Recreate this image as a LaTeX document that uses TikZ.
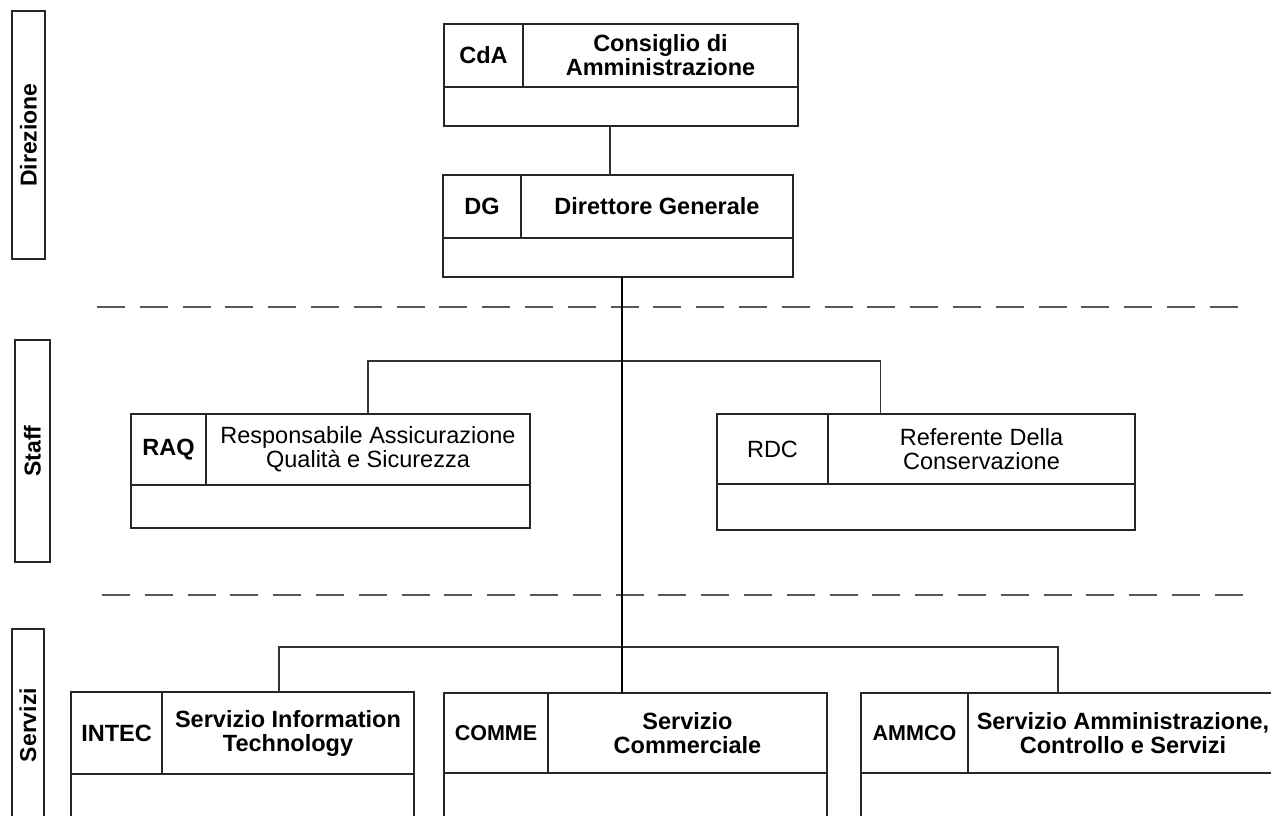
\documentclass[tikz,border=0pt]{standalone}
\usepackage{fontspec}
\setmainfont{Liberation Sans}
\tikzset{
  cell/.style={draw=black!85, line width=1.4pt, inner sep=0pt, outer sep=0pt,
    align=center, font=\fontsize{23.5}{24}\selectfont},
  conn/.style={draw=black!80, line width=1.4pt},
  trunkline/.style={draw=black, line width=2.2pt},
  sepline/.style={draw=black!65, line width=2.4pt, dash pattern=on 28pt off 14.8pt},
  lane/.style={draw=black!85, line width=1.6pt, inner sep=0pt, outer sep=0pt,
    rotate=90, font=\bfseries\fontsize{23}{24}\selectfont}
}
% #1 name, #2 left, #3 top, #4 code width, #5 title width, #6 header height, #7 body height, #8 code, #9 title
\newcommand\orgunit[9]{%
  \node[cell, anchor=north west, minimum width=#4pt, minimum height=#6pt] (#1-code) at (#2,#3) {#8};
  \node[cell, anchor=north west, minimum width=#5pt, minimum height=#6pt] (#1-title) at (#1-code.north east) {#9};
  \node[cell, anchor=north west, minimum width={(#4+#5)*1pt}, minimum height=#7pt] (#1-body) at (#1-code.south west) {};
}
\begin{document}
\begin{tikzpicture}[x=1pt,y=-1pt]
\useasboundingbox (0,0) rectangle (1271,816);
\clip (0,0) rectangle (1271,816);
\fill[white] (0,0) rectangle (1271,816);

% lane labels
\node[lane, minimum width=248pt, minimum height=33pt] (lane-dir) at (28.5,135) {Direzione};
\node[lane, minimum width=222pt, minimum height=35pt] (lane-staff) at (32.5,451) {Staff};
\node[lane, minimum width=192pt, minimum height=32pt] (lane-serv) at (28,725) {Servizi};

% separators
\coordinate (sep1a) at (97,307);
\coordinate (sep1b) at (1238,307);
\coordinate (sep2a) at (102,595);
\coordinate (sep2b) at (1243,595);
\draw[sepline] (sep1a) -- (sep1b);
\draw[sepline] (sep2a) -- (sep2b);

% units
\orgunit{cda}{444}{24}{79}{275}{63}{39}{\bfseries CdA}{\bfseries Consiglio di\\\bfseries Amministrazione}
\orgunit{dg}{443}{175}{78}{272}{63}{39}{\bfseries DG}{\bfseries Direttore Generale}
\orgunit{raq}{131}{414}{75}{324}{71}{43}{\bfseries RAQ}{Responsabile Assicurazione\\Qualità e Sicurezza}
\orgunit{rdc}{717}{414}{111}{307}{70}{46}{RDC}{Referente Della\\Conservazione}
\orgunit{intec}{71}{692}{91}{252}{82}{60}{\bfseries INTEC}{\bfseries Servizio Information\\\bfseries Technology}
\orgunit{comme}{444}{693}{104}{279}{80}{60}{\bfseries\fontsize{21.5}{24}\selectfont COMME}{\bfseries Servizio\\\bfseries Commerciale}
\orgunit{ammco}{861}{693}{107}{310}{80}{60}{\bfseries\fontsize{21.5}{24}\selectfont AMMCO}{\bfseries Servizio Amministrazione,\\\bfseries Controllo e Servizi}

% connectors
\coordinate (cda-out) at ([xshift=-11pt]cda-body.south);
\draw[conn] (cda-out) -- (cda-out |- dg-code.north);

\coordinate (tr) at ([xshift=4pt]dg-body.south);
\coordinate (staffbus) at (0,361);
\coordinate (servbus) at (0,647);
\coordinate (rdc-in) at ([xshift=-101pt]rdc-title.north);
\coordinate (intec-in) at ([xshift=-9pt]intec-title.north);
\coordinate (ammco-in) at ([xshift=-65pt]ammco-title.north);

\draw[conn] (raq-title.north) -- (raq-title.north |- staffbus) -- (rdc-in |- staffbus) -- (rdc-in);
\draw[conn] (intec-in) -- (intec-in |- servbus) -- (ammco-in |- servbus) -- (ammco-in);
\draw[trunkline] (tr) -- (tr |- comme-title.north);
\end{tikzpicture}
\end{document}
